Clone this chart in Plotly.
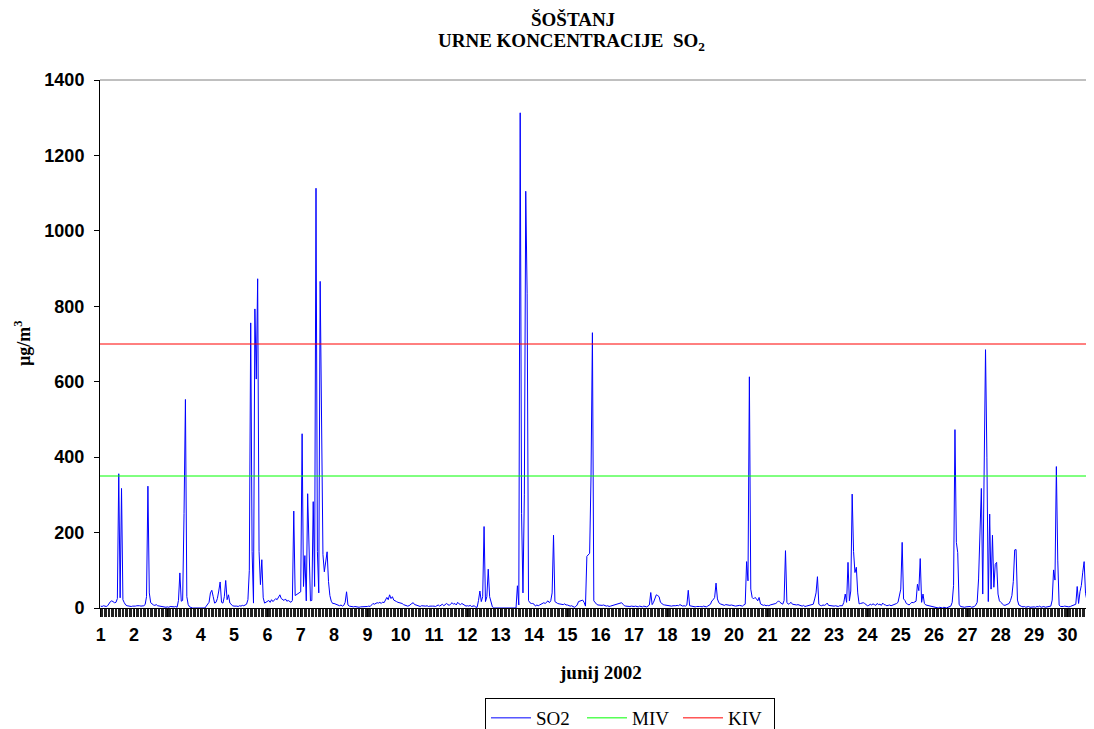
import plotly.graph_objects as go

# Hourly SO2 concentrations (ug/m3), June 2002, one list per day (hours 0..23)
so2_day01 = [5, 4, 6, 5, 4, 6, 12, 17, 19, 16, 14, 15, 25, 356, 27, 317, 22, 14, 8, 6, 5, 6, 4, 5]
so2_day02 = [4, 5, 6, 7, 6, 5, 5, 6, 9, 30, 323, 40, 14, 10, 8, 7, 9, 6, 5, 4, 3, 2, 3, 2]
so2_day03 = [3, 2, 4, 3, 2, 3, 4, 2, 20, 93, 18, 20, 250, 553, 30, 9, 3, 1, 0, 0, 0, 1, 0, 0]
so2_day04 = [0, 0, 0, 0, 5, 10, 15, 40, 47, 30, 13, 15, 25, 45, 69, 15, 13, 30, 73, 22, 35, 13, 9, 6]
so2_day05 = [5, 6, 5, 4, 6, 5, 7, 6, 8, 10, 22, 100, 756, 150, 13, 793, 607, 873, 150, 62, 128, 27, 13, 16]
so2_day06 = [18, 20, 15, 22, 17, 20, 25, 22, 30, 35, 25, 22, 20, 24, 18, 20, 17, 15, 20, 257, 33, 35, 38, 40]
so2_day07 = [43, 462, 57, 139, 19, 303, 120, 19, 20, 282, 57, 1113, 150, 40, 866, 400, 142, 96, 125, 149, 70, 33, 18, 12]
so2_day08 = [12, 10, 8, 7, 6, 8, 5, 7, 15, 43, 8, 5, 4, 5, 3, 4, 3, 3, 2, 3, 3, 4, 3, 4]
so2_day09 = [4, 5, 4, 8, 12, 10, 12, 14, 13, 15, 12, 16, 14, 20, 28, 22, 35, 25, 30, 21, 18, 17, 15, 14]
so2_day10 = [14, 12, 9, 7, 5, 5, 6, 10, 12, 14, 9, 8, 7, 5, 4, 6, 5, 4, 5, 6, 4, 5, 6, 5]
so2_day11 = [5, 4, 6, 8, 5, 7, 10, 6, 8, 12, 9, 7, 11, 14, 10, 12, 8, 15, 11, 9, 12, 10, 7, 5]
so2_day12 = [6, 5, 7, 4, 5, 6, 2, 2, 20, 45, 17, 30, 216, 17, 30, 103, 30, 12, 3, 0, 0, 0, 0, 0]
so2_day13 = [0, 0, 0, 0, 0, 0, 0, 0, 0, 0, 0, 0, 59, 8, 1313, 250, 40, 300, 1105, 833, 20, 14, 12, 12]
so2_day14 = [10, 5, 8, 6, 8, 10, 12, 14, 12, 15, 19, 14, 19, 40, 193, 17, 14, 12, 11, 10, 11, 9, 11, 8]
so2_day15 = [8, 6, 5, 6, 3, 2, 4, 8, 17, 19, 20, 21, 15, 5, 137, 142, 145, 350, 730, 19, 14, 10, 8, 7]
so2_day16 = [8, 7, 8, 6, 5, 6, 4, 5, 6, 7, 8, 9, 10, 11, 13, 14, 10, 6, 5, 4, 5, 4, 5, 4]
so2_day17 = [4, 5, 4, 3, 5, 4, 3, 5, 4, 3, 5, 8, 41, 9, 15, 25, 35, 33, 30, 15, 11, 9, 8, 7]
so2_day18 = [6, 5, 4, 5, 6, 5, 6, 7, 6, 9, 7, 5, 6, 5, 8, 47, 6, 5, 4, 5, 3, 4, 5, 4]
so2_day19 = [4, 3, 5, 4, 3, 5, 8, 10, 19, 22, 28, 66, 24, 14, 11, 9, 8, 7, 9, 8, 6, 7, 8, 6]
so2_day20 = [6, 5, 6, 5, 7, 6, 5, 8, 10, 123, 72, 613, 50, 28, 24, 28, 25, 19, 28, 11, 8, 7, 8, 6]
so2_day21 = [7, 6, 8, 9, 8, 10, 12, 15, 19, 15, 12, 10, 20, 152, 15, 10, 12, 15, 10, 9, 10, 8, 9, 7]
so2_day22 = [6, 5, 7, 4, 5, 6, 5, 6, 8, 10, 24, 40, 83, 10, 7, 6, 8, 7, 9, 13, 7, 6, 5, 6]
so2_day23 = [5, 6, 5, 4, 6, 5, 6, 15, 37, 15, 121, 19, 45, 302, 150, 94, 108, 40, 11, 12, 13, 14, 12, 8]
so2_day24 = [6, 7, 10, 8, 11, 9, 7, 12, 9, 10, 7, 13, 9, 8, 6, 7, 8, 6, 7, 9, 10, 12, 15, 30]
so2_day25 = [50, 174, 24, 20, 12, 10, 8, 12, 15, 14, 15, 18, 63, 46, 131, 15, 37, 12, 8, 7, 8, 6, 5, 4]
so2_day26 = [3, 2, 1, 0, 2, 1, 0, 2, 1, 0, 2, 3, 5, 15, 60, 473, 174, 147, 10, 4, 3, 4, 2, 3]
so2_day27 = [4, 3, 4, 2, 3, 4, 8, 15, 77, 183, 317, 37, 300, 685, 400, 17, 249, 50, 193, 55, 116, 121, 37, 19]
so2_day28 = [15, 10, 8, 7, 8, 9, 12, 20, 33, 70, 154, 155, 21, 8, 5, 4, 3, 4, 2, 3, 4, 2, 3, 4]
so2_day29 = [3, 2, 4, 3, 5, 2, 3, 4, 2, 3, 4, 3, 5, 21, 101, 74, 375, 127, 8, 4, 3, 4, 5, 4]
so2_day30 = [4, 3, 4, 5, 6, 8, 10, 57, 12, 43, 60, 95, 123, 39, 20, 12, 23, 18, 14, 10, 8, 6, 5, 4]

day_numbers = list(range(1, 31))
day_labels = [str(d) for d in day_numbers]
MIV_LIMIT = 350   # hourly limit value
KIV_LIMIT = 700   # alert threshold

so2_days = [so2_day01, so2_day02, so2_day03, so2_day04, so2_day05, so2_day06,
            so2_day07, so2_day08, so2_day09, so2_day10, so2_day11, so2_day12,
            so2_day13, so2_day14, so2_day15, so2_day16, so2_day17, so2_day18,
            so2_day19, so2_day20, so2_day21, so2_day22, so2_day23, so2_day24,
            so2_day25, so2_day26, so2_day27, so2_day28, so2_day29, so2_day30]
so2 = [v for day in so2_days for v in day]
hours = list(range(len(so2)))
day_tick_hours = [(d - 1) * 24 for d in day_numbers]

# ---- layout geometry ----
# the page body has an 8px margin, so the figure starts at page (8, 8)
OFF = 8
W, H = 1094 - OFF, 729 - OFF
# plot area in page pixels
PL, PR, PT, PB = 100, 1094, 80, 608


def px(x):
    return (x - PL) / (PR - PL)


def py(y):
    return (PB - y) / (PB - PT)


SERIF = "Liberation Serif, Times New Roman, serif"
SANS = "Liberation Sans, Arial, sans-serif"

fig = go.Figure()
fig.add_trace(go.Scatter(x=hours, y=so2, mode="lines", name="SO2",
                         line=dict(color="#0000FF", width=1)))
fig.add_trace(go.Scatter(x=[hours[0] - 0.5, hours[-1] + 0.5], y=[MIV_LIMIT, MIV_LIMIT],
                         mode="lines", name="MIV", line=dict(color="#00FF00", width=1)))
fig.add_trace(go.Scatter(x=[hours[0] - 0.5, hours[-1] + 0.5], y=[KIV_LIMIT, KIV_LIMIT],
                         mode="lines", name="KIV", line=dict(color="#FF0000", width=1)))

fig.update_layout(
    width=W, height=H,
    margin=dict(l=PL - OFF, r=0, t=PT - OFF, b=(H + OFF) - PB, pad=0, autoexpand=False),
    paper_bgcolor="white", plot_bgcolor="white",
    showlegend=True,
    legend=dict(orientation="h", x=px(485), y=py(698), xanchor="left", yanchor="top",
                bordercolor="black", borderwidth=1, bgcolor="white",
                font=dict(family=SERIF, size=19, color="black"),
                entrywidth=41, entrywidthmode="pixels", itemwidth=40),
    xaxis=dict(range=[-0.5, 715.1], tickmode="array", tickvals=day_tick_hours,
               ticktext=day_labels, ticks="outside", ticklen=8, tickwidth=1,
               tickcolor="black", showline=True, linecolor="black", linewidth=1,
               showgrid=False, zeroline=False, layer="below traces", automargin=False,
               tickfont=dict(family=SANS, size=18, color="black", weight="bold"),
               ticklabelstandoff=2,
               minor=dict(tickmode="linear", tick0=-0.5, dtick=1, ticks="outside",
                          ticklen=8, tickwidth=1, tickcolor="#222222", showgrid=False)),
    yaxis=dict(range=[0, 1400], tickmode="array", tickvals=list(range(0, 1401, 200)),
               ticks="outside", ticklen=5, tickwidth=1, tickcolor="black",
               showline=True, linecolor="black", linewidth=1, automargin=False,
               showgrid=False, zeroline=False, layer="below traces",
               tickfont=dict(family=SANS, size=18, color="black", weight="bold"),
               ticklabelstandoff=6),
)

# plot-area top border
fig.add_shape(type="line", xref="paper", yref="paper", x0=0, x1=1, y0=1, y1=1,
              line=dict(color="#808080", width=1))

# titles (positions given in page pixels)
fig.add_annotation(text="<b>ŠOŠTANJ</b>", xref="paper", yref="paper",
                   x=px(573), y=py(19.5), showarrow=False, xanchor="center", yanchor="middle",
                   font=dict(family=SERIF, size=19, color="black"))
fig.add_annotation(text="<b>URNE KONCENTRACIJE\u00a0\u00a0SO<sub>2</sub></b>", xref="paper", yref="paper",
                   x=px(571), y=py(42), showarrow=False, xanchor="center", yanchor="middle",
                   font=dict(family=SERIF, size=19, color="black"))
fig.add_annotation(text="<b>µg/m<sup>3</sup></b>", xref="paper", yref="paper",
                   x=px(22), y=py(343), showarrow=False, textangle=-90,
                   xanchor="center", yanchor="middle",
                   font=dict(family=SERIF, size=18, color="black"))
fig.add_annotation(text="<b>junij 2002</b>", xref="paper", yref="paper",
                   x=px(600), y=py(672), showarrow=False, xanchor="center", yanchor="middle",
                   font=dict(family=SERIF, size=19, color="black"))

fig.write_html("out.html")
